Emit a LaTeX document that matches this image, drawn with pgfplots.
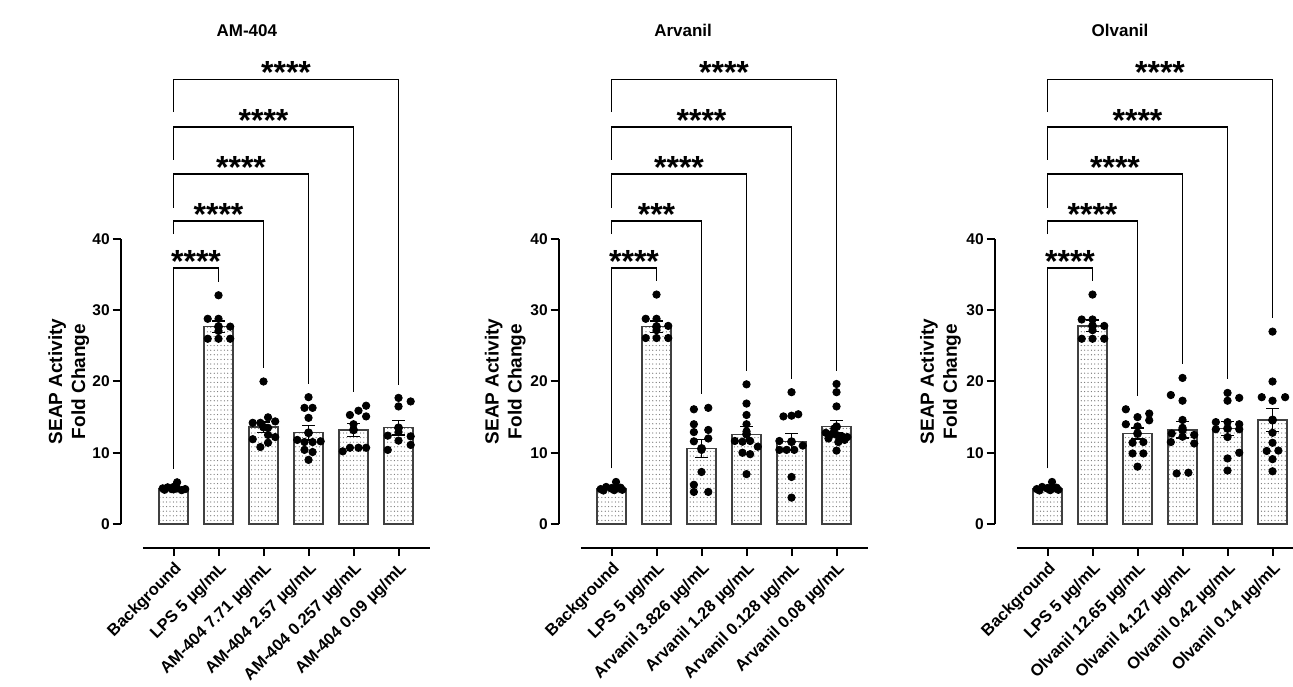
\documentclass[border=0pt]{standalone}
\usepackage{fontspec}
\setmainfont{Liberation Sans}
\usepackage{pgfplots}
\pgfplotsset{compat=1.18}
\usetikzlibrary{patterns}
\pgfdeclarepatternformonly{finedots}{\pgfqpoint{-0.4pt}{-0.4pt}}{\pgfqpoint{0.4pt}{0.4pt}}{\pgfqpoint{1.7pt}{2.3pt}}{\pgfpathcircle{\pgfqpoint{0pt}{0pt}}{0.32pt}\pgfusepath{fill}}
\pgfplotsset{
 panel/.style={
  x=22.5pt, y=3.5625pt,
  xmin=-1.167, xmax=5.75, ymin=-3.3, ymax=72,
  anchor=south west,
  axis lines*=left,
  axis line style={draw=none},
  clip=false,
  tick align=outside,
  major tick length=4.25pt,
  tick style={black, line width=1pt},
  ytick={0,10,20,30,40},
  xtick={0,1,2,3,4,5},
  x tick label style={rotate=45, anchor=north east, font=\bfseries\fontsize{8.25}{9}\selectfont, inner sep=1.5pt},
  y tick label style={font=\bfseries\fontsize{7.75}{9}\selectfont, inner sep=1.2pt},
  /pgf/number format/assume math mode=true,
 },
 bars/.style={ybar, bar width=14.5pt, draw=black!75, line width=0.6pt, pattern=finedots, pattern color=black!55},
 errs/.style={black, only marks, mark=none, forget plot, error bars/.cd, y dir=both, y explicit,
   error bar style={draw=black, line width=0.75pt}, error mark options={draw=black, rotate=90, mark size=3.25pt, line width=0.75pt}},
 pts/.style={only marks, mark=*, mark size=1.85pt, black},
 brk/.style={black, line width=0.85pt, mark=none},
}
\newcommand{\astf}{\bfseries\fontsize{16}{16}\selectfont}
\newcommand{\ttl}{\bfseries\fontsize{8.5}{10}\selectfont}
\newcommand{\ylab}{\bfseries\fontsize{9.5}{11.5}\selectfont}
\begin{document}
\begin{tikzpicture}
% ---------------- Panel 1: AM-404
\begin{axis}[panel, at={(60.5pt,69.25pt)},
  xticklabels={Background, LPS 5 µg/mL, AM-404 7.71 µg/mL, AM-404 2.57 µg/mL, AM-404 0.257 µg/mL, AM-404 0.09 µg/mL}]
\addplot[bars] coordinates {(0,4.9) (1,27.7) (2,13.6) (3,12.8) (4,13.2) (5,13.5)};
\addplot[pts] coordinates {
 (-0.24,5.0) (-0.13,5.15) (-0.04,4.9) (0.08,5.85) (0.08,5.0) (0.18,4.75) (0.26,4.9) (-0.2,4.8) (0.0,5.2)
 (1,32.1) (0.76,28.8) (1,28.8) (1.26,27.7) (1,27.1) (0.76,26.0) (1,26.0) (1.26,26.0)
 (2,20.0) (2.1,14.97) (1.76,14.2) (1.93,14.2) (2.26,14.4) (2.1,13.5) (1.76,11.9) (2.1,12.5) (2.26,12.2) (2.1,11.4) (1.93,10.8)
 (3,17.8) (2.91,16.3) (3.09,16.3) (3,14.9) (2.75,11.8) (2.91,11.5) (3.09,11.5) (3.27,11.6) (2.91,10.4) (3.09,10.1) (3,9.0)
 (4.28,16.6) (4.11,15.9) (3.92,15.3) (4.28,15.1) (4,14.0) (3.76,10.2) (3.92,10.7) (4.11,10.7) (4.28,10.7)
 (5,17.7) (5.27,17.2) (5,16.5) (4.76,12.4) (5,12.9) (5.27,12.3) (5,11.7) (5.27,11.1) (4.76,10.4)
};
\addplot[errs] coordinates {(0,4.9) +- (0,0.12) (1,27.7) +- (0,0.8) (2,13.6) +- (0,0.75) (3,12.8) +- (0,1.0) (4,13.2) +- (0,0.9) (5,13.5) +- (0,1.0)};
\addplot[brk] coordinates {(0,7.7) (0,35.9) (1,35.9) (1,34.0)};
\addplot[brk] coordinates {(0,40.7) (0,42.5) (2,42.5) (2,21.85)};
\addplot[brk] coordinates {(0,44.4) (0,49.1) (3,49.1) (3,19.65)};
\addplot[brk] coordinates {(0,51.1) (0,55.7) (4,55.7) (4,18.5)};
\addplot[brk] coordinates {(0,57.8) (0,62.4) (5,62.4) (5,19.55)};
\node[anchor=base, font=\astf] at (axis cs:0.5,35.3) {****};
\node[anchor=base, font=\astf] at (axis cs:1,41.9) {****};
\node[anchor=base, font=\astf] at (axis cs:1.5,48.5) {****};
\node[anchor=base, font=\astf] at (axis cs:2,55.1) {****};
\node[anchor=base, font=\astf] at (axis cs:2.5,61.8) {****};
\draw[line width=1pt] (axis cs:-1.167,0) -- (axis cs:-1.167,40);
\draw[line width=1pt] (axis cs:-0.68,-3.3) -- (axis cs:5.71,-3.3);
\node[font=\ttl] at (axis cs:1.63,69.3) {AM-404};
\node[rotate=90, align=center, font=\ylab] at (axis cs:-2.33,20) {SEAP Activity\\Fold Change};
\end{axis}
% ---------------- Panel 2: Arvanil
\begin{axis}[panel, at={(279.5pt,69.25pt)},
  xticklabels={Background, LPS 5 µg/mL, Arvanil 3.826 µg/mL, Arvanil 1.28 µg/mL, Arvanil 0.128 µg/mL, Arvanil 0.08 µg/mL}]
\addplot[bars] coordinates {(0,5.0) (1,27.7) (2,10.6) (3,12.6) (4,11.55) (5,13.66)};
\addplot[pts] coordinates {
 (-0.24,4.9) (-0.12,5.2) (0,5.0) (0.1,5.9) (0.12,5.0) (0.24,4.8) (-0.18,4.7) (0.06,4.75) (0.2,5.1)
 (1,32.2) (0.76,28.8) (1,28.8) (1.26,27.8) (1,27.2) (0.76,26.1) (1,26.1) (1.26,26.1)
 (1.83,16.1) (2.15,16.3) (1.83,14.0) (1.83,12.9) (2.15,13.2) (1.83,11.6) (2.15,12.0) (2,10.4) (2,7.3) (1.83,5.5) (1.83,4.5) (2.15,4.5)
 (3,19.6) (3,16.9) (3,15.3) (3,14.0) (3,13.0) (2.74,11.65) (2.91,11.55) (3.08,11.65) (3.25,10.85) (2.91,10.0) (3.08,9.8) (3,7.0)
 (4,18.5) (3.82,15.1) (4,15.2) (4.15,15.4) (3.73,11.65) (3.73,10.4) (3.89,10.4) (4.06,10.4) (4.25,11.0) (4,6.6) (4,3.7)
 (5,19.65) (5,18.5) (5,16.5) (4.95,13.4) (4.76,12.8) (4.88,12.6) (5.0,12.5) (5.12,12.3) (5.24,12.2) (4.82,12.0) (5.18,11.8) (5.04,11.5) (5,10.3)
};
\addplot[errs] coordinates {(0,5.0) +- (0,0.12) (1,27.7) +- (0,0.8) (2,10.6) +- (0,1.25) (3,12.6) +- (0,1.05) (4,11.55) +- (0,1.15) (5,13.66) +- (0,0.85)};
\addplot[brk] coordinates {(0,7.8) (0,35.9) (1,35.9) (1,34.1)};
\addplot[brk] coordinates {(0,40.7) (0,42.5) (2,42.5) (2,18.25)};
\addplot[brk] coordinates {(0,44.4) (0,49.1) (3,49.1) (3,21.5)};
\addplot[brk] coordinates {(0,51.1) (0,55.7) (4,55.7) (4,20.35)};
\addplot[brk] coordinates {(0,57.8) (0,62.4) (5,62.4) (5,21.5)};
\node[anchor=base, font=\astf] at (axis cs:0.5,35.3) {****};
\node[anchor=base, font=\astf] at (axis cs:1,41.9) {***};
\node[anchor=base, font=\astf] at (axis cs:1.5,48.5) {****};
\node[anchor=base, font=\astf] at (axis cs:2,55.1) {****};
\node[anchor=base, font=\astf] at (axis cs:2.5,61.8) {****};
\draw[line width=1pt] (axis cs:-1.167,0) -- (axis cs:-1.167,40);
\draw[line width=1pt] (axis cs:-0.68,-3.3) -- (axis cs:5.71,-3.3);
\node[font=\ttl] at (axis cs:1.59,69.3) {Arvanil};
\node[rotate=90, align=center, font=\ylab] at (axis cs:-2.36,20) {SEAP Activity\\Fold Change};
\end{axis}
% ---------------- Panel 3: Olvanil
\begin{axis}[panel, at={(497.5pt,69.25pt)},
  xticklabels={Background, LPS 5 µg/mL, Olvanil 12.65 µg/mL, Olvanil 4.127 µg/mL, Olvanil 0.42 µg/mL, Olvanil 0.14 µg/mL}]
\addplot[bars] coordinates {(0,5.0) (1,27.8) (2,12.7) (3,13.2) (4,13.4) (5,14.6)};
\addplot[pts] coordinates {
 (-0.24,4.9) (-0.12,5.2) (0,5.0) (0.1,5.9) (0.12,5.0) (0.24,4.8) (-0.18,4.7) (0.06,4.75) (0.2,5.1)
 (1,32.2) (0.76,28.7) (1,28.7) (1.26,27.8) (1,27.2) (0.76,26.0) (1,26.0) (1.26,26.0)
 (1.74,16.1) (2,15.0) (2.26,15.5) (2.26,14.55) (1.74,14.0) (2,13.7) (1.89,11.4) (2.13,11.5) (1.89,9.9) (2.13,9.9) (2,8.05)
 (3,20.5) (2.74,18.1) (3,17.3) (3,14.6) (3,13.5) (2.76,12.7) (3,12.25) (3.26,12.5) (2.74,11.5) (3.26,11.3) (2.87,7.1) (3.13,7.2)
 (4,18.4) (4,17.3) (4.26,17.7) (3.74,14.3) (4,14.3) (4.26,14.0) (3.74,13.3) (4.26,13.3) (4,12.2) (4.26,10.0) (4,9.2) (4,7.5)
 (5,27.0) (5,20.0) (4.76,17.8) (5,17.3) (5.28,17.8) (5,14.55) (5,12.8) (5,11.4) (4.87,10.25) (5.13,10.3) (5,9.1) (5,7.4)
};
\addplot[errs] coordinates {(0,5.0) +- (0,0.12) (1,27.8) +- (0,0.8) (2,12.7) +- (0,0.75) (3,13.2) +- (0,1.15) (4,13.4) +- (0,1.0) (5,14.6) +- (0,1.6)};
\addplot[brk] coordinates {(0,7.8) (0,35.9) (1,35.9) (1,34.1)};
\addplot[brk] coordinates {(0,40.7) (0,42.5) (2,42.5) (2,17.9)};
\addplot[brk] coordinates {(0,44.4) (0,49.1) (3,49.1) (3,22.4)};
\addplot[brk] coordinates {(0,51.1) (0,55.7) (4,55.7) (4,20.3)};
\addplot[brk] coordinates {(0,57.8) (0,62.4) (5,62.4) (5,28.9)};
\node[anchor=base, font=\astf] at (axis cs:0.5,35.3) {****};
\node[anchor=base, font=\astf] at (axis cs:1,41.9) {****};
\node[anchor=base, font=\astf] at (axis cs:1.5,48.5) {****};
\node[anchor=base, font=\astf] at (axis cs:2,55.1) {****};
\node[anchor=base, font=\astf] at (axis cs:2.5,61.8) {****};
\draw[line width=1pt] (axis cs:-1.167,0) -- (axis cs:-1.167,40);
\draw[line width=1pt] (axis cs:-0.68,-3.3) -- (axis cs:5.71,-3.3);
\node[font=\ttl] at (axis cs:1.61,69.3) {Olvanil};
\node[rotate=90, align=center, font=\ylab] at (axis cs:-2.38,20) {SEAP Activity\\Fold Change};
\end{axis}
\pgfresetboundingbox
\useasboundingbox (0,0) rectangle (646.5pt,343pt);
\end{tikzpicture}
\end{document}
